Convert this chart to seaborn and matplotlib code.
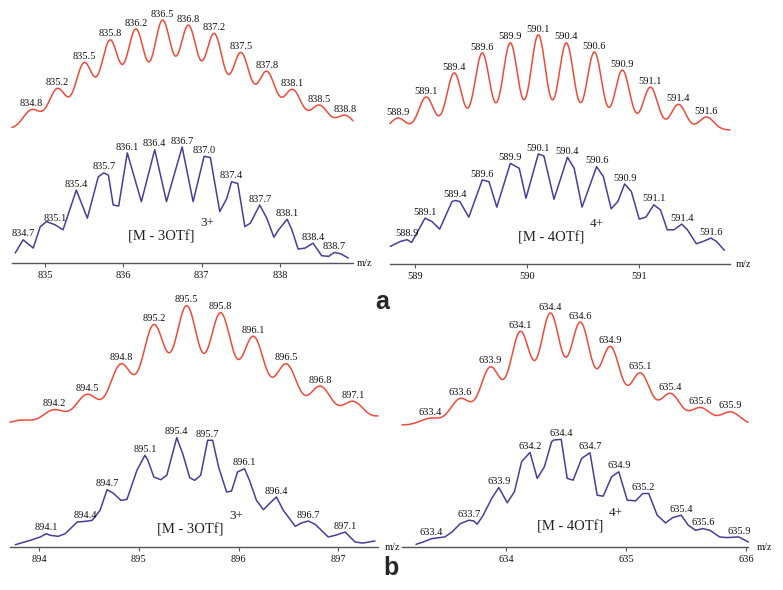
import numpy as np
import seaborn as sns
import matplotlib.pyplot as plt

sns.set_theme(style='white')
plt.rcParams['font.family'] = ['Liberation Serif', 'DejaVu Serif']

# ---- simulated isotope patterns (stick m/z, relative intensity, printed label)
sim_a1_mz = [834.50, 834.83, 835.16, 835.50, 835.83, 836.16, 836.50, 836.83,
             837.16, 837.50, 837.83, 838.16, 838.50, 838.83]
sim_a1_int = [3, 20, 39, 62, 82, 92, 100, 95, 88, 71, 54, 38, 24, 15]
sim_a1_lab = ['', '834.8', '835.2', '835.5', '835.8', '836.2', '836.5', '836.8',
              '837.2', '837.5', '837.8', '838.1', '838.5', '838.8']

sim_a2_mz = [588.85, 589.10, 589.35, 589.60, 589.85, 590.10, 590.35, 590.60,
             590.85, 591.10, 591.35, 591.60]
sim_a2_int = [12.6, 34.7, 60, 81, 91.6, 100, 91.6, 82, 63, 45, 27, 13.7]
sim_a2_lab = ['588.9', '589.1', '589.4', '589.6', '589.9', '590.1', '590.4',
              '590.6', '590.9', '591.1', '591.4', '591.6']

sim_b1_mz = [893.82, 894.15, 894.48, 894.82, 895.15, 895.48, 895.82, 896.15,
             896.48, 896.82, 897.15, 897.48]
sim_b1_int = [4, 12.8, 25.6, 51, 84, 100, 94, 74, 51, 32.5, 19.7, 8]
sim_b1_lab = ['', '894.2', '894.5', '894.8', '895.2', '895.5', '895.8', '896.1',
              '896.5', '896.8', '897.1', '']

sim_b2_mz = [633.37, 633.62, 633.87, 634.12, 634.37, 634.62, 634.87, 635.12,
             635.37, 635.62, 635.87]
sim_b2_int = [6, 23.6, 51.8, 83.6, 100, 91.8, 70, 46.4, 28.2, 15.5, 11.8]
sim_b2_lab = ['633.4', '633.6', '633.9', '634.1', '634.4', '634.6', '634.9',
              '635.1', '635.4', '635.6', '635.9']

# ---- experimental traces (profile vertices) and their peak labels
exp_a1_mz = [834.62, 834.72, 834.85, 834.94, 835.02, 835.13, 835.23, 835.40, 835.54,
             835.68, 835.75, 835.81, 835.87, 835.94, 836.05, 836.23, 836.40, 836.55,
             836.75, 836.89, 837.03, 837.11, 837.23, 837.32, 837.38, 837.46, 837.55,
             837.62, 837.74, 837.83, 837.92, 837.98, 838.09, 838.15, 838.23, 838.32,
             838.42, 838.53, 838.62, 838.69, 838.77, 838.87]
exp_a1_int = [8.6, 20, 12.9, 31.4, 35.7, 32.9, 28.6, 62.9, 38.6, 74.3, 77.7, 75.7,
              50, 49.1, 94.9, 52.9, 97.7, 52.9, 100, 52.9, 92, 90.9, 44.3, 55.7, 70,
              68.6, 31.4, 34.3, 50, 38.6, 22.3, 28.6, 37.7, 28.6, 12, 12.9, 17.1, 6.3,
              5.7, 9.1, 8, 4.3]
exp_a1_lab = ['834.7', '835.1', '835.4', '835.7', '836.1', '836.4', '836.7', '837.0',
              '837.4', '837.7', '838.1', '838.4', '838.7']

exp_a2_mz = [588.78, 588.87, 588.93, 588.97, 589.09, 589.15, 589.22, 589.33, 589.36,
             589.40, 589.48, 589.60, 589.66, 589.73, 589.85, 589.93, 589.99, 590.10,
             590.15, 590.24, 590.36, 590.42, 590.49, 590.62, 590.68, 590.75, 590.81,
             590.87, 590.93, 591.00, 591.06, 591.13, 591.19, 591.25, 591.31, 591.38,
             591.43, 591.51, 591.57, 591.64, 591.69, 591.76]
exp_a2_int = [16, 20.5, 22.1, 19.6, 41.7, 38.7, 31.7, 56.8, 57.7, 56.8, 42.6, 76.4,
              74.9, 51.7, 91.5, 87, 59.8, 100, 98.2, 58.9, 97, 87, 51.7, 88.5, 79.5,
              50.2, 56.8, 72.8, 65.9, 40.8, 42.6, 53.8, 49.2, 31.1, 31.1, 36.3, 31.1,
              18.4, 20.5, 23.6, 20.5, 12.4]
exp_a2_lab = ['588.9', '589.1', '589.4', '589.6', '589.9', '590.1', '590.4', '590.6',
              '590.9', '591.1', '591.4', '591.6']

exp_b1_mz = [893.76, 893.91, 894.01, 894.07, 894.11, 894.19, 894.26, 894.38, 894.46,
             894.53, 894.61, 894.68, 894.74, 894.82, 894.88, 894.98, 895.06, 895.09,
             895.15, 895.22, 895.28, 895.38, 895.44, 895.51, 895.56, 895.62, 895.69,
             895.74, 895.80, 895.88, 895.93, 895.99, 896.06, 896.11, 896.18, 896.25,
             896.31, 896.38, 896.45, 896.57, 896.63, 896.70, 896.77, 896.90, 896.97,
             897.07, 897.17, 897.25, 897.37]
exp_b1_int = [2.1, 6.1, 9.1, 12.1, 10.6, 9.7, 12.1, 22.7, 23.3, 24.2, 33.3, 52.1, 49.1,
              42.4, 43.3, 69.7, 83.3, 78.8, 63.6, 61.2, 65.2, 99.4, 84.8, 63, 60.6,
              65.2, 97, 97, 72.7, 50, 50.9, 68.2, 71.2, 60.6, 42.4, 33.9, 39.4, 45.5,
              33.3, 18.8, 21.8, 23.6, 20.6, 9.1, 10.6, 13.6, 4.5, 3.6, 5.5]
exp_b1_lab = ['894.1', '894.4', '894.7', '895.1', '895.4', '895.7', '896.1', '896.4',
              '896.7', '897.1']

exp_b2_mz = [633.25, 633.31, 633.38, 633.49, 633.55, 633.62, 633.69, 633.73, 633.76,
             633.81, 633.88, 633.94, 633.96, 634.01, 634.07, 634.13, 634.20, 634.26,
             634.32, 634.38, 634.40, 634.46, 634.51, 634.56, 634.63, 634.70, 634.76,
             634.81, 634.88, 634.94, 635.01, 635.08, 635.14, 635.19, 635.26, 635.33,
             635.39, 635.46, 635.52, 635.58, 635.64, 635.70, 635.78, 635.84, 635.94,
             636.02]
exp_b2_int = [2.5, 4.7, 7.8, 9.4, 14.1, 21.9, 25, 24.4, 21.3, 29.7, 45.3, 55.6, 51.6,
              41.3, 51.6, 79.7, 88.4, 64.1, 75, 98.4, 100, 100.6, 64.1, 62.5, 82.8,
              88.1, 48.4, 47.5, 65.6, 70.3, 43.8, 43.1, 50, 50, 29.7, 22.5, 27.5, 29.7,
              20.3, 15.6, 17.2, 15.6, 9.4, 8.8, 9.4, 4.7]
exp_b2_lab = ['633.4', '633.7', '633.9', '634.2', '634.4', '634.7', '634.9', '635.2',
              '635.4', '635.6', '635.9']

RED = '#ee4a3c'
BLUE = '#4b3d97'
W, H = 783, 590

fig = plt.figure(figsize=(W / 100, H / 100), dpi=100)
fig.patch.set_facecolor('white')


def px_axes(x0, x1, ytop, ybot):
    return fig.add_axes([x0 / W, 1 - ybot / H, (x1 - x0) / W, (ybot - ytop) / H])


def bare(ax, xlim):
    ax.set_xlim(xlim)
    ax.set_ylim(0, 100)
    ax.set_facecolor('none')
    for s in ax.spines.values():
        s.set_visible(False)
    ax.set_xticks([])
    ax.set_yticks([])
    ax.set_xlabel('')
    ax.set_ylabel('')


def peak_label(ax, x, y, text):
    ax.annotate(text, (x, y), xytext=(0, 1), textcoords='offset points',
                ha='center', va='bottom', fontsize=7.5, color='#111111',
                annotation_clip=False)


def draw_sim(ax, xlim, mz, inten, labels, width):
    # theoretical pattern: each isotope stick broadened to a gaussian line shape
    x = np.linspace(xlim[0], xlim[1], 800)
    y = np.zeros_like(x)
    for m, a in zip(mz, inten):
        y += a * np.exp(-(x - m) ** 2 / (2 * width ** 2))
    sns.lineplot(x=x, y=y, ax=ax, color=RED, linewidth=1.1, clip_on=False)
    bare(ax, xlim)
    for m, lab in zip(mz, labels):
        if lab:
            win = np.abs(x - m) < 0.05
            peak_label(ax, m, y[win].max(), lab)


def draw_exp(ax, xlim, mz, inten, labels, mz_off):
    mz = np.asarray(mz)
    inten = np.asarray(inten)
    sns.lineplot(x=mz, y=inten, ax=ax, color=BLUE, linewidth=1.1, clip_on=False)
    bare(ax, xlim)
    ax.spines['bottom'].set_visible(True)
    ax.spines['bottom'].set_color('#555555')
    ax.spines['bottom'].set_linewidth(1.0)
    ax.set_xticks(np.arange(np.ceil(xlim[0]), xlim[1] + 0.01, 1.0))
    ax.set_xticklabels([f'{t:.0f}' for t in ax.get_xticks()])
    ax.tick_params(axis='x', bottom=True, direction='out', length=3, width=0.8,
                   color='#555555', labelsize=7.5, pad=3, labelcolor='#111111')
    for lab in labels:
        v = float(lab)
        win = np.where(np.abs(mz - v) < 0.08)[0]
        i = win[np.argmax(inten[win])]
        peak_label(ax, mz[i], inten[i], lab)
    ax.annotate('m/z', (1, 0), xycoords='axes fraction', xytext=(mz_off, 0),
                textcoords='offset points', ha='left', va='center', fontsize=7.5,
                color='#111111')


def ion_label(x, y, main, charge):
    fig.text(x / W, 1 - y / H, main, ha='left', va='center', fontsize=10.5,
             color='#222222')
    fig.text((x + 72) / W, 1 - (y - 14) / H, charge, ha='left', va='center',
             fontsize=9.5, color='#222222')


# panel a, left (3+)
xl = (834.579, 838.93)
draw_sim(px_axes(12, 353, 23, 132), xl, sim_a1_mz, sim_a1_int, sim_a1_lab, 0.115)
draw_exp(px_axes(12, 353, 147, 263), xl, exp_a1_mz, exp_a1_int, exp_a1_lab, 3)
ion_label(128, 237, '[M - 3OTf]', '3+')

# panel a, right (4+)
xl = (588.777, 591.81)
draw_sim(px_axes(390, 730, 35, 130), xl, sim_a2_mz, sim_a2_int, sim_a2_lab, 0.066)
draw_exp(px_axes(390, 730, 154, 264), xl, exp_a2_mz, exp_a2_int, exp_a2_lab, 4)
ion_label(518, 238, '[M - 4OTf]', '4+')

# panel b, left (3+)
xl = (893.706, 897.40)
draw_sim(px_axes(10, 378, 308, 425), xl, sim_b1_mz, sim_b1_int, sim_b1_lab, 0.112)
draw_exp(px_axes(10, 378, 437, 547), xl, exp_b1_mz, exp_b1_int, exp_b1_lab, 5)
ion_label(157, 530, '[M - 3OTf]', '3+')

# panel b, right (4+)
xl = (633.133, 636.017)
draw_sim(px_axes(402, 748, 315, 425), xl, sim_b2_mz, sim_b2_int, sim_b2_lab, 0.083)
draw_exp(px_axes(402, 748, 440, 547), xl, exp_b2_mz, exp_b2_int, exp_b2_lab, 6)
ion_label(537, 527, '[M - 4OTf]', '4+')

fig.text(382 / W, 1 - 302 / H, 'a', ha='center', va='center', fontsize=18,
         fontweight='bold', family=['Liberation Sans', 'DejaVu Sans'])
fig.text(391 / W, 1 - 568 / H, 'b', ha='center', va='center', fontsize=18,
         fontweight='bold', family=['Liberation Sans', 'DejaVu Sans'])

fig.savefig('out.png', dpi=100)
